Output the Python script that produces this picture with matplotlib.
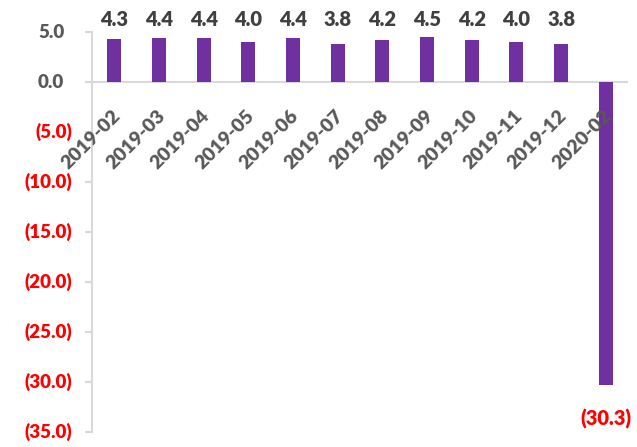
import matplotlib.pyplot as plt

plt.rcParams['font.family'] = ['Lato', 'DejaVu Sans']

# monthly values
months = ['2019-02', '2019-03', '2019-04', '2019-05', '2019-06', '2019-07',
          '2019-08', '2019-09', '2019-10', '2019-11', '2019-12', '2020-02']
values = [4.3, 4.4, 4.4, 4.0, 4.4, 3.8, 4.2, 4.5, 4.2, 4.0, 3.8, -30.3]
y_ticks = [5.0, 0.0, -5.0, -10.0, -15.0, -20.0, -25.0, -30.0, -35.0]

purple = '#7030A0'
gray = '#595959'
dark = '#404040'
red = '#FF0000'
line_gray = '#D9D9D9'
weight = 'heavy'


def fmt(v):
    return f'({abs(v):.1f})' if v < 0 else f'{v:.1f}'


fig = plt.figure(figsize=(6.37, 4.47), dpi=100)
ax = fig.add_axes([0.1444, 0.0336, 0.8416, 0.8948])

x = list(range(len(months)))
ax.bar(x, values, width=0.31, color=purple, zorder=2)

ax.set_xlim(-0.5, len(months) - 0.5)
ax.set_ylim(-35, 5)

ax.axhline(0, color=line_gray, lw=1.5, zorder=1)
for s in ['top', 'right', 'bottom']:
    ax.spines[s].set_visible(False)
ax.spines['left'].set_color(line_gray)
ax.spines['left'].set_linewidth(1.5)

ax.set_xticks([])
ax.set_yticks(y_ticks)
ax.set_yticklabels([])
ax.tick_params(axis='y', length=5, width=1.5, color=line_gray, direction='out')

# y axis labels, accounting-style
for t in y_ticks:
    off = -14.5 if t < 0 else -20
    ax.annotate(fmt(t), xy=(0, t), xycoords=('axes fraction', 'data'),
                xytext=(off, 0), textcoords='offset points',
                ha='right', va='center', fontsize=13.5, fontweight=weight,
                color=red if t < 0 else gray, annotation_clip=False)

# category labels sitting under the zero line
for i, m in enumerate(months):
    ax.annotate(m, xy=(i, 0), xytext=(5, -25), textcoords='offset points',
                rotation=45, rotation_mode='anchor', ha='right', va='baseline',
                fontsize=14, fontweight=weight, color=gray,
                annotation_clip=False)

# value labels
for i, v in enumerate(values):
    if v >= 0:
        ax.annotate(fmt(v), xy=(i, 5), xytext=(0, 2), textcoords='offset points',
                    ha='center', va='bottom', fontsize=14.5, fontweight=weight,
                    color=dark, annotation_clip=False)
    else:
        ax.annotate(fmt(v), xy=(i, v), xytext=(0, -17.5), textcoords='offset points',
                    ha='center', va='top', fontsize=14.5, fontweight=weight,
                    color=red, annotation_clip=False)

fig.savefig('out.png', dpi=100)
